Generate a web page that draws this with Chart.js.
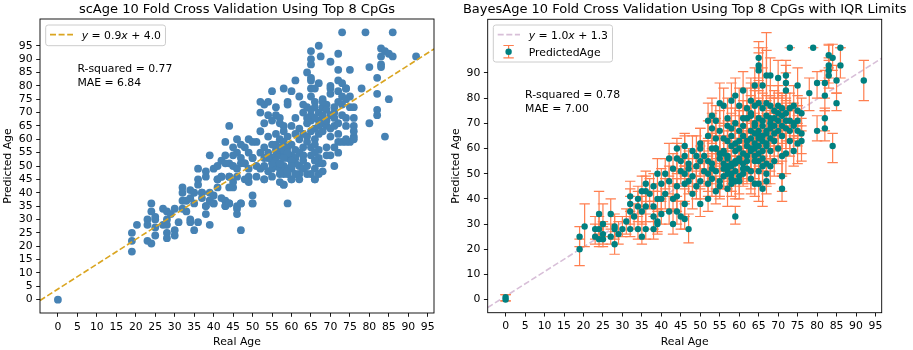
<!DOCTYPE html>
<html><head><meta charset="utf-8">
<script src="https://cdn.jsdelivr.net/npm/chart.js@4.4.1/dist/chart.umd.min.js"></script>
<style>
html,body{margin:0;padding:0;background:#fff;}
#wrap{position:relative;width:913px;height:350px;overflow:hidden;background:#fff;}
#c1{position:absolute;left:0;top:0;}
#c2{position:absolute;left:440px;top:0;}
</style></head><body>
<div id="wrap"><canvas id="c1" width="456" height="350"></canvas><canvas id="c2" width="473" height="350"></canvas></div>
<script>
// ---------------- DATA ----------------
const xTickValues = [0,5,10,15,20,25,30,35,40,45,50,55,60,65,70,75,80,85,90,95];
const scAgeYTicks = [0,5,10,15,20,25,30,35,40,45,50,55,60,65,70,75,80,85,90,95];
const bayesYTicks = [0,10,20,30,40,50,60,70,80,90];

const scAgeTitle = "scAge 10 Fold Cross Validation Using Top 8 CpGs";
const bayesTitle = "BayesAge 10 Fold Cross Validation Using Top 8 CpGs with IQR Limits";
const xLabel = "Real Age";
const yLabel = "Predicted Age";
const scAgeStats = ["R-squared = 0.77", "MAE = 6.84"];
const bayesStats = ["R-squared = 0.78", "MAE = 7.00"];
const scAgeFitLabel = ["y", " = 0.9", "x", " + 4.0"];
const bayesFitLabel = ["y", " = 1.0", "x", " + 1.3"];
const bayesSeriesLabel = "PredictedAge";
const scAgeFit = [0.93, 3.96];   // slope, intercept
const bayesFit = [0.978, 1.35];  // slope, intercept

const scAgeReal = [
0,19,19,19,20.3,23,23,23,24,24,
24,25,25,25,25,27,27,28,28,28,
28,28,29,30,30,30,31,32,32,32,
32,33,34,34,34,34,35,36,36,36,
36,37,38,38,38,38,39,39,39,40,
40,40,41,41,42,42,43,43,43,43,
44,44,44,44,45,45,46,46,46,46,
47,47,48,48,49,49,49,50,50,50,
51,52,52,53,53,54,54,55,55,56,
56,57,58,58,59,59,59,60,60,60,
61,61,62,63,64,64,65,65,65,65,
65,65,66,67,67.5,67,70,70,71,72,
72,72,73,73,74,75,75,76,76,76,
78,79,80,80,82,82,82,82,83,83,
83,83,84,84,85,85,86,86,92,72,
73,74,75,76,72,76,66,70,72,74,
65,68,70,73,74,52,63,66,68,69,
71,72,73,75,76,54,63,65,67,69,
70,71,73,74,53,55,57,58,62,64,
65,66,67,68,69,71,72,74,56,57,
58,59,61,62,63,64,65,66,67,68,
70,72,74,47,50,53,55,56,58,59,
60,61,63,64,65,66,67,69,71,45,
47,49,50,52,53,54,55,56,57,58,
59,60,61,62,63,65,66,67,69,70,
43,45,46,47,48,49,51,52,53,54,
55,56,57,58,59,60,62,63,64,66,
68,41,42,44,45,46,48,51,53,55,
57,58,60,62,64,65,66,67,35,37,
39,41,44,58,33,35,37,39,40,42,
43,44,46,47,50,38,67,66,68,57,
56,58,61,59,55,60,63,54,57,62,
56,57,58,59,60,61,57,58,59,60,
64,65,66,67,68,69,70,71,66,68
];
const scAgePred = [
0,25,22,18,28,30,28,22,21,36,
33,31,27,24,30,34,28,33,25,23,
28,30,32,34,26,24,29,42,40,37,
34,33,41,38,30,29,26,49,45,43,
29,40,48,46,35,32,54,28,37,39,
36,49,50,45,52,46,54,59,37,35,
65,51,46,36,42,57,55,34,32,60,
26,36,51,57,46,44,60,39,36,53,
59,63,70,73,45,74,61,78,53,72,
69,68,79,43,36,74,73,78,45,65,
82,68,76,54,85,72,93,90,88,83,
82,79,45,95,91,81,89,80,50,92,
86,82,81,100,79,86,76,68,65,61,
79,100,87,66,83,77,71,69,94,91,
88,87,93,61,92,75,100,91,91,59,
59,59,59,60,55,63,79,79,78,79,
76,75,77,76,75,74,73,74,72,73,
72,74,73,72,72,69,70,69,70,71,
69,70,69,68,66,67,66,65,64,66,
67,64,67,66,65,65,66,65,62,60,
63,61,62,60,62,61,63,60,62,63,
61,62,60,58,59,57,58,56,59,57,
58,56,57,59,57,58,56,57,57,54,
53,55,53,55,53,55,53,54,54,55,
53,54,53,55,54,54,55,53,54,54,
51,50,49,51,51,49,50,49,50,48,
49,50,49,50,49,49,50,49,50,49,
51,45,46,46,44,46,45,46,45,46,
44,47,45,47,47,47,45,47,40,40,
40,42,42,43,37,36,38,37,36,38,
35,36,35,36,36,35,51,52,48,56,
52,48,51,47,51,52,52,53,47,45,
58,57,56,55,52,47,51,53,48,50,
68,71,68,65,69,67,64,68,72,74
];

const bayesAge = [
0,0,19,19,20.3,23,23,24,24,24,
25,25,25,27,27,28,28,28,29,30,
31,32,32,32,32,33,34,34,34,35,
35,36,36,36,37,38,38,38,38,39,
39,40,40,41,41,42,42,43,43,43,
44,44,44,45,46,46,47,48,49,50,
50,51,52,52,53,54,55,56,57,58,
59,59,60,61,63,64,65,65,65,66,
67,68,70,71,71,72,72,72,73,75,
76,78,79,80,80,82,82,82,82,83,
83,83,83,84,84,85,85,86,86,92,
62,64,65,66,67,68,69,70,71,72,
73,74,75,63,54,57,59,61,62,63,
64,65,66,67,68,69,70,71,73,74,
75,53,55,58,60,61,63,64,65,66,
67,68,69,70,72,74,75,76,52,54,
56,57,58,59,60,61,62,63,64,65,
66,67,68,69,71,73,75,76,48,50,
53,54,55,56,58,59,60,61,62,63,
64,65,66,67,68,70,72,74,44,46,
47,49,50,52,53,55,56,57,58,59,
60,61,62,64,65,66,67,69,71,45,
46,47,51,52,53,54,56,57,58,59,
60,62,63,65,66,67,68,42,46,47,
49,50,52,53,55,57,58,60,64,65,
66,67,35,39,44,46,48,54,36,40,
45,39,56,58,57,59,61,55,63,57,
56,57,58,59,60,61,64,65,66,67,
68,69,70,71,72,73,62,63,64,65
];
const bayesPred = [
0,1,25,20,29,28,25,34,28,24,
30,26,24,34,25,29,22,28,26,28,
31,41,38,35,28,33,37,40,28,25,
35,46,43,28,42,45,37,33,28,50,
30,46,40,50,42,56,35,52,40,30,
60,45,35,55,61,32,28,49,53,62,
38,57,71,40,73,60,78,77,69,79,
33,81,77,83,79,85,96,93,91,85,
89,89,88,44,49,89,86,83,100,85,
74,82,100,86,67,86,81,72,68,97,
93,91,89,96,61,87,78,100,93,87,
76,77,78,76,78,77,75,77,76,74,
76,77,75,74,71,72,70,72,72,73,
70,72,71,73,70,72,71,73,71,70,
71,68,67,68,67,69,67,69,67,69,
67,68,69,67,68,69,67,66,65,64,
64,63,65,62,63,65,63,64,62,65,
63,62,64,63,65,63,62,63,59,60,
60,60,58,59,61,59,60,58,61,59,
60,58,59,61,59,60,58,59,56,57,
54,57,55,55,54,56,54,57,54,55,
56,54,55,57,55,56,54,55,57,51,
50,52,51,50,52,51,49,52,50,51,
49,52,51,51,53,50,53,47,46,47,
45,47,46,48,45,44,46,47,46,46,
44,47,43,40,41,38,42,43,37,34,
33,31,52,48,50,47,50,47,48,53,
58,56,53,54,55,52,66,64,65,66,
72,66,74,69,71,67,57,60,55,61
];
const bayesLow = [
-0.5,-0.5,21,13.5,21,24,22,26,24,21,
25,22,21,28,22,25,18,24,22,25,
26,35,33,30,25,28,31,34,24,22,
30,39,37,24,36,39,31,28,24,43,
26,40,35,44,36,49,30,45,35,26,
52,39,30,48,53,28,22.5,43,46,55,
33,50,64,35,66,53,70,69,62,71,
30,73,69,75,71,77,88,86,83,77,
81,81,80,39,43,82,79,76,100,77,
67,75,100,80,63,80,75,67,63,92,
88,86,84,91,54.4,82,75,100,88,79,
68,71,70,69,71,69,67,70,68,68,
70,69,69,66,65,64,64,66,64,67,
62,66,63,65,64,64,65,67,63,64,
65,62,59,62,61,62,59,63,61,61,
59,62,61,61,60,63,61,58,59,56,
58,55,59,54,57,57,55,58,56,57,
55,56,56,57,57,57,54,55,53,52,
54,52,52,51,55,51,54,50,55,51,
52,52,51,55,51,54,50,53,50,49,
48,49,49,47,48,48,48,49,46,49,
48,48,47,51,47,50,46,49,49,46,
45,45,45,43,46,44,44,45,43,45,
42,46,44,46,46,45,46,42,39,42,
40,40,41,41,40,37,41,40,41,39,
37,42,37,35,35,33,36,38,31,30,
28,27,45,43,44,40,45,41,42,47,
51,49,47,47,48,46,58,57,57,59,
64,59,66,62,63,60,50,52,48,54
];
const bayesHigh = [
2,2,29,24,38,33,30,43,33,28,
38,31,29,40,30,34,27,33,31,33,
36,47,44,41,33,38,43,45,33,31,
41,51,49,34,48,50,43,39,33,56,
36,52,46,56,48,62,41,58,46,36,
64,51,41,61,66,38,34,56,59,68,
44,63,78,46,80,67,86,84,76,86,
37,88,84,90.5,86,92,102.4,100,98,100,
106,96,95,50,55,95,93,90,100,92,
80,88,100,90.5,73,91,87,76,75,101.4,
101,96,95,101.4,66,93,82,100,100,95,
84,83,87,82,99,85,83,85,82,80,
82,85,81,81,77,80,76,79,79,88,
78,80,92,79,76,80,77,81,77,78,
77,74,75,74,75,77,73,84,73,77,
75,74,77,73,76,75,73,72,71,72,
70,71,71,70,69,73,71,70,70,79,
71,68,72,69,73,69,70,69,65,68,
66,68,64,67,67,67,66,66,67,67,
68,64,67,67,67,66,66,65,62,65,
60,65,61,63,60,64,60,65,62,61,
64,60,63,63,63,62,62,61,65,57,
56,59,57,57,58,58,55,59,57,57,
56,58,58,56,60,56,60,53,53,52,
51,54,51,55,51,51,52,54,51,53,
51,53,49,46,48,44,49,49,43,39,
39,36,59,54,57,54,56,54,55,60,
65,63,60,62,62,59,74,71,73,74,
80,74,82,76,78,75,64,67,62,68
];

// ---------------- STYLE ----------------
const FONT = "'DejaVu Sans', 'Liberation Sans', sans-serif";
const FS = 10.85;
const xRange = [-4.6, 96.6];
const scAgeYRange = [-5, 105];
const bayesYRange = [-5.2, 111.3];

function makeScale(range, ticks, fitKey, fitVal) {
  return {
    type: 'linear', min: range[0], max: range[1],
    afterBuildTicks: s => { s.ticks = ticks.map(v => ({ value: v })); },
    afterFit: s => { s[fitKey] = fitVal; },
    ticks: { color: '#000', font: { family: FONT, size: FS }, padding: 3.6,
             autoSkip: false, maxRotation: 0, minRotation: 0, callback: v => String(v) },
    grid: { display: true, drawOnChartArea: false, drawTicks: true, tickLength: 3.8,
            color: '#000', lineWidth: 0.9 },
    border: { display: false },
    title: { display: false }
  };
}

function drawMath(ctx, parts, x, y) {
  let cx = x;
  parts.forEach((p, i) => {
    ctx.font = (i % 2 === 0 ? 'italic ' : '') + FS + 'px ' + FONT;
    ctx.fillText(p, cx, y);
    cx += ctx.measureText(p).width;
  });
  return cx - x;
}
function mathWidth(ctx, parts) {
  let w = 0;
  parts.forEach((p, i) => {
    ctx.font = (i % 2 === 0 ? 'italic ' : '') + FS + 'px ' + FONT;
    w += ctx.measureText(p).width;
  });
  return w;
}
function legendBox(ctx, x, y, w, h) {
  const r = 2.5;
  ctx.beginPath();
  ctx.moveTo(x + r, y); ctx.lineTo(x + w - r, y); ctx.arcTo(x + w, y, x + w, y + r, r);
  ctx.lineTo(x + w, y + h - r); ctx.arcTo(x + w, y + h, x + w - r, y + h, r);
  ctx.lineTo(x + r, y + h); ctx.arcTo(x, y + h, x, y + h - r, r);
  ctx.lineTo(x, y + r); ctx.arcTo(x, y, x + r, y, r); ctx.closePath();
  ctx.globalAlpha = 0.8; ctx.fillStyle = '#fff'; ctx.fill();
  ctx.globalAlpha = 1; ctx.strokeStyle = '#cccccc'; ctx.lineWidth = 1; ctx.stroke();
}
function drawCommon(chart, title, statsText, statsAnchor, yLabelX) {
  const { ctx, chartArea: a, scales: { x, y } } = chart;
  ctx.save();
  ctx.strokeStyle = '#000'; ctx.lineWidth = 0.9;
  ctx.strokeRect(a.left, a.top, a.right - a.left, a.bottom - a.top);
  ctx.fillStyle = '#000';
  ctx.textAlign = 'center'; ctx.textBaseline = 'alphabetic';
  ctx.font = '13px ' + FONT;
  ctx.fillText(title, (a.left + a.right) / 2, 12.8);
  ctx.font = FS + 'px ' + FONT;
  ctx.fillText(xLabel, (a.left + a.right) / 2, 344.6);
  ctx.save();
  ctx.translate(yLabelX, (a.top + a.bottom) / 2);
  ctx.rotate(-Math.PI / 2);
  ctx.fillText(yLabel, 0, 0);
  ctx.restore();
  ctx.textAlign = 'left';
  const sx = x.getPixelForValue(statsAnchor[0]);
  const sy = y.getPixelForValue(statsAnchor[1]);
  statsText.forEach((t, i) => ctx.fillText(t, sx, sy + i * 13.4));
  ctx.restore();
}

// ---------------- LEFT CHART ----------------
const leftDecor = {
  id: 'leftDecor',
  afterDraw(chart) {
    const ctx = chart.ctx;
    drawCommon(chart, scAgeTitle, scAgeStats, [5, 85], 11.2);
    ctx.save();
    const tw = mathWidth(ctx, scAgeFitLabel);
    legendBox(ctx, 45.7, 25, 81.7 - 45.7 + tw + 4.5, 20.7);
    ctx.strokeStyle = '#daa520'; ctx.lineWidth = 1.6; ctx.setLineDash([6, 2.6]);
    ctx.beginPath(); ctx.moveTo(50, 34.6); ctx.lineTo(73, 34.6); ctx.stroke();
    ctx.setLineDash([]);
    ctx.fillStyle = '#000'; ctx.textAlign = 'left'; ctx.textBaseline = 'alphabetic';
    drawMath(ctx, scAgeFitLabel, 81.7, 38.6);
    ctx.restore();
  }
};

new Chart(document.getElementById('c1'), {
  data: {
    datasets: [
      { type: 'scatter', order: 2,
        data: scAgeReal.map((v, i) => ({ x: v, y: scAgePred[i] })),
        backgroundColor: '#4682b4', borderWidth: 0, pointRadius: 3.9, pointHoverRadius: 3.9 },
      { type: 'line', order: 1,
        data: xRange.map(v => ({ x: v, y: scAgeFit[0] * v + scAgeFit[1] })),
        borderColor: '#daa520', borderWidth: 1.6, borderDash: [6, 2.6], pointRadius: 0, fill: false }
    ]
  },
  options: {
    responsive: false, animation: false, devicePixelRatio: 1,
    layout: { padding: { top: 19, right: 22, bottom: 0, left: 0 } },
    plugins: { legend: { display: false }, tooltip: { enabled: false }, title: { display: false } },
    scales: {
      x: Object.assign(makeScale(xRange, xTickValues, 'height', 37), { position: 'bottom' }),
      y: Object.assign(makeScale(scAgeYRange, scAgeYTicks, 'width', 40), { position: 'left' })
    }
  },
  plugins: [leftDecor]
});

// ---------------- RIGHT CHART ----------------
const errorBars = {
  id: 'errorBars',
  beforeDatasetDraw(chart, args) {
    if (args.index !== 1) return;
    const { ctx, scales: { x, y } } = chart;
    ctx.save();
    ctx.strokeStyle = '#ff7f50'; ctx.lineWidth = 1.2;
    const cap = 5.2;
    bayesAge.forEach((a, i) => {
      const px = x.getPixelForValue(a);
      const lo = y.getPixelForValue(bayesLow[i]);
      const hi = y.getPixelForValue(bayesHigh[i]);
      ctx.beginPath();
      ctx.moveTo(px, lo); ctx.lineTo(px, hi);
      ctx.moveTo(px - cap, lo); ctx.lineTo(px + cap, lo);
      ctx.moveTo(px - cap, hi); ctx.lineTo(px + cap, hi);
      ctx.stroke();
    });
    ctx.restore();
  }
};
const rightDecor = {
  id: 'rightDecor',
  afterDraw(chart) {
    const ctx = chart.ctx;
    drawCommon(chart, bayesTitle, bayesStats, [5, 80], 18.8);
    ctx.save();
    ctx.font = FS + 'px ' + FONT;
    const tw = Math.max(mathWidth(ctx, bayesFitLabel), (ctx.font = FS + 'px ' + FONT, ctx.measureText(bayesSeriesLabel).width));
    legendBox(ctx, 53.3, 25, 88.7 - 53.3 + tw + 4.5, 37);
    ctx.strokeStyle = '#d8bfd8'; ctx.lineWidth = 1.6; ctx.setLineDash([6, 2.6]);
    ctx.beginPath(); ctx.moveTo(57.7, 34.6); ctx.lineTo(80, 34.6); ctx.stroke();
    ctx.setLineDash([]);
    const mx = 68.6, my = 51.7;
    ctx.strokeStyle = '#ff7f50'; ctx.lineWidth = 1.2;
    ctx.beginPath();
    ctx.moveTo(mx, my - 6.2); ctx.lineTo(mx, my + 6.2);
    ctx.moveTo(mx - 5.2, my - 6.2); ctx.lineTo(mx + 5.2, my - 6.2);
    ctx.moveTo(mx - 5.2, my + 6.2); ctx.lineTo(mx + 5.2, my + 6.2);
    ctx.stroke();
    ctx.fillStyle = '#008080';
    ctx.beginPath(); ctx.arc(mx, my, 3.2, 0, Math.PI * 2); ctx.fill();
    ctx.fillStyle = '#000'; ctx.textAlign = 'left'; ctx.textBaseline = 'alphabetic';
    drawMath(ctx, bayesFitLabel, 88.7, 38.6);
    ctx.font = FS + 'px ' + FONT;
    ctx.fillText(bayesSeriesLabel, 88.7, 55.8);
    ctx.restore();
  }
};

new Chart(document.getElementById('c2'), {
  data: {
    datasets: [
      { type: 'line', order: 2,
        data: xRange.map(v => ({ x: v, y: bayesFit[0] * v + bayesFit[1] })),
        borderColor: '#d8bfd8', borderWidth: 1.6, borderDash: [6, 2.6], pointRadius: 0, fill: false },
      { type: 'scatter', order: 1,
        data: bayesAge.map((v, i) => ({ x: v, y: bayesPred[i] })),
        backgroundColor: '#008080', borderWidth: 0, pointRadius: 3.2, pointHoverRadius: 3.2 }
    ]
  },
  options: {
    responsive: false, animation: false, devicePixelRatio: 1,
    layout: { padding: { top: 19.3, right: 31.3, bottom: 0, left: 0 } },
    plugins: { legend: { display: false }, tooltip: { enabled: false }, title: { display: false } },
    scales: {
      x: Object.assign(makeScale(xRange, xTickValues, 'height', 37.3), { position: 'bottom' }),
      y: Object.assign(makeScale(bayesYRange, bayesYTicks, 'width', 47.7), { position: 'left' })
    }
  },
  plugins: [errorBars, rightDecor]
});
</script>
</body></html>
